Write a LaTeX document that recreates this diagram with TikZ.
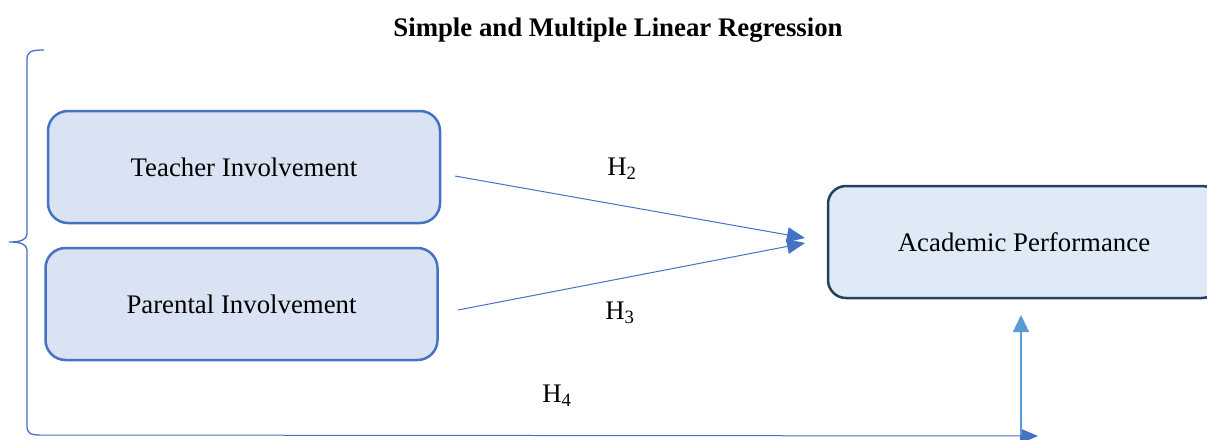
\documentclass[tikz,border=0pt]{standalone}
\usepackage{fontspec}
\setmainfont{Liberation Serif}
\usetikzlibrary{arrows.meta}
\definecolor{boxfill}{HTML}{DAE3F3}
\definecolor{boxline}{HTML}{4472C4}
\definecolor{outfill}{HTML}{DEEBF7}
\definecolor{outline}{HTML}{24405F}
\definecolor{linkblue}{HTML}{4472C4}
\definecolor{lightlink}{HTML}{5B9BD5}
\begin{document}
\begin{tikzpicture}[x=1pt,y=-1pt,
  every node/.style={font=\fontsize{26.8}{31}\selectfont},
  predictor/.style={draw=boxline, line width=2.5pt, fill=boxfill, rounded corners=20pt,
    minimum width=392pt, minimum height=112pt, inner sep=0pt},
  outcome/.style={draw=outline, line width=2.5pt, fill=outfill, rounded corners=18pt,
    minimum width=392pt, minimum height=112pt, inner sep=0pt},
  link/.style={draw=linkblue, line width=1pt, -{Triangle[length=18pt,width=15pt]}},
  hlabel/.style={inner sep=0pt}
]
\useasboundingbox (0,0) rectangle (1207,439);

% title
\node (title) at (618,30) {\textbf{Simple and Multiple Linear Regression}};

% variables
\node[predictor] (teacher) at (244,167) {Teacher Involvement};
\node[predictor] (parent) at (241.5,304) {Parental Involvement};
\node[outcome] (perf) at (1024,242) {Academic Performance};

% connector end points
\coordinate (t0) at (455,176);
\coordinate (p0) at (458,310);
\coordinate (h2end) at (805,238);
\coordinate (h3end) at (805,243);
\coordinate (bl) at (40,435);
\coordinate (br) at (1038,436);
\coordinate (vb) at (1021,435);
\coordinate (vt) at (1021,315);

% simple regressions
\draw[link] (t0) -- (h2end);
\draw[link] (p0) -- (h3end);
\node[hlabel] (h2) at (622,169) {H\textsubscript{2}};
\node[hlabel] (h3) at (620,313) {H\textsubscript{3}};

% multiple regression: brace grouping both predictors
\draw[linkblue, line width=1.3pt]
  (44,50) .. controls (30,50) and (27,52) .. (27,60)
  -- (27,234) .. controls (27,240) and (20,242) .. (9,242)
  .. controls (20,242) and (27,244) .. (27,250)
  -- (27,426) .. controls (27,433) and (30,435) .. (bl);
\draw[link] (bl) -- (br);
\draw[draw=lightlink, line width=1.3pt, -{Triangle[length=17pt,width=16pt]}, lightlink] (vb) -- (vt);
\node[hlabel] (h4) at (557,396) {H\textsubscript{4}};
\end{tikzpicture}
\end{document}
